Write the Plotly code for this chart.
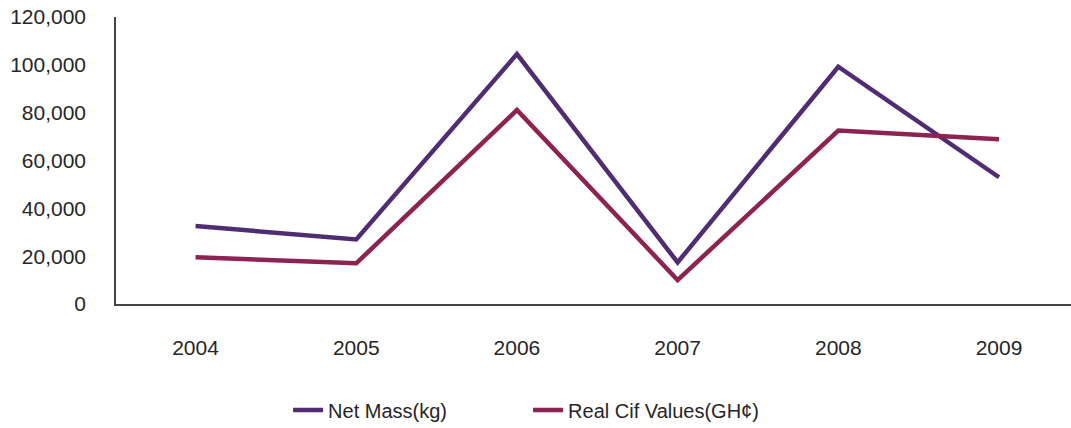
import plotly.graph_objects as go


# ==========================================
# DATA
# ==========================================

years = ["2004", "2005", "2006", "2007", "2008", "2009"]

net_mass = [32600, 27000, 104500, 17400, 99200, 53000]

real_cif = [19500, 17000, 81100, 10000, 72500, 68900]

y_ticks = [0, 20000, 40000, 60000, 80000, 100000, 120000]


# ==========================================
# FIGURE
# ==========================================

fig = go.Figure()

fig.add_trace(
    go.Scatter(
        x=years,
        y=net_mass,
        mode="lines",
        name="Net Mass(kg)",
        line=dict(color="#502D73", width=4.5)
    )
)

fig.add_trace(
    go.Scatter(
        x=years,
        y=real_cif,
        mode="lines",
        name="Real Cif Values(GH¢)",
        line=dict(color="#8C2350", width=4.5)
    )
)

fig.update_layout(
    width=1071,
    height=428,
    margin=dict(l=116, r=0, t=17, b=124),
    paper_bgcolor="white",
    plot_bgcolor="white",
    font=dict(family="Liberation Sans, Arial, sans-serif", size=20, color="#262626"),
    showlegend=True,
    legend=dict(
        orientation="h",
        xref="container",
        yref="container",
        x=0.269,
        xanchor="left",
        y=0.042,
        yanchor="middle",
        font=dict(size=20),
        entrywidth=195,
        tracegroupgap=0
    ),
    xaxis=dict(
        type="category",
        range=[-0.495, 5.448],
        showgrid=False,
        showline=True,
        linecolor="#444444",
        linewidth=1.5,
        ticks="",
        tickfont=dict(size=21),
        ticklabelstandoff=24,
        zeroline=False
    ),
    yaxis=dict(
        range=[0, 120000],
        tickvals=y_ticks,
        tickformat=",d",
        showgrid=False,
        showline=True,
        linecolor="#444444",
        linewidth=1.5,
        ticks="",
        tickfont=dict(size=21),
        ticklabelstandoff=24,
        zeroline=False
    )
)

# page has a default body margin, drop it so the figure sits at 0,0
fig.write_html(
    "out.html",
    config={"displayModeBar": False},
    post_script="document.body.style.margin='0';"
)
